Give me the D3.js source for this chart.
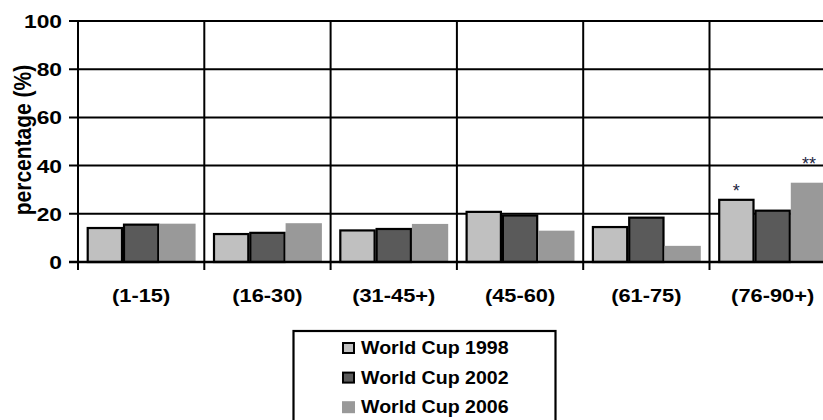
<!DOCTYPE html>
<html><head><meta charset="utf-8">
<script src="https://cdn.jsdelivr.net/npm/d3@7"></script>
<style>
html,body{margin:0;padding:0;background:#fff;}
svg{display:block;}
text{font-family:"Liberation Sans",Arial,Helvetica,sans-serif;}
</style></head>
<body>
<svg id="chart" width="823" height="420"></svg>
<script>
const categories = ["(1-15)","(16-30)","(31-45+)","(45-60)","(61-75)","(76-90+)"];
const seriesNames = ["World Cup 1998","World Cup 2002","World Cup 2006"];
const wc1998 = [14.1, 11.6, 13.1, 20.8, 14.5, 25.8];
const wc2002 = [15.5, 12.1, 13.7, 19.3, 18.4, 21.3];
const wc2006 = [15.9, 16.1, 15.8, 13.0, 6.7, 32.9];
const yTicks = [0, 20, 40, 60, 80, 100];
const annotations = [{cat:"(76-90+)", series:0, text:"*"}, {cat:"(76-90+)", series:2, text:"**"}];

const seriesValues = [wc1998, wc2002, wc2006];
const fills = ["#c0c0c0", "#5a5a5a", "#999999"];
const strokes = ["#000", "#000", "none"];
const starLift = [3, 13];
const SX = 1.18;

const svg = d3.select("#chart");
const mLeft = 78, mTop = 21, mBottom = 262, step = 126.3;
const x = d3.scaleBand().domain(categories).range([mLeft, mLeft + step*categories.length]).padding(0);
const y = d3.scaleLinear().domain([0, 100]).range([mBottom, mTop]);
const x1 = d3.scaleBand().domain(d3.range(3)).range([0, x.bandwidth()]).paddingInner(0).paddingOuter(0.24);

// horizontal gridlines
svg.append("g").selectAll("line").data(yTicks.filter(d => d > 0)).join("line")
  .attr("x1", mLeft - 9).attr("x2", 900)
  .attr("y1", d => y(d)).attr("y2", d => y(d))
  .attr("stroke", "#000").attr("stroke-width", 2);
svg.append("line").attr("x1", mLeft - 9).attr("x2", mLeft).attr("y1", y(0)).attr("y2", y(0))
  .attr("stroke", "#000").attr("stroke-width", 2);

// vertical separators (including y axis)
const seps = categories.map(c => x(c)).concat([x(categories[categories.length-1]) + x.bandwidth()]);
svg.append("g").selectAll("line").data(seps).join("line")
  .attr("x1", d => d).attr("x2", d => d)
  .attr("y1", y(100)).attr("y2", y(0) + 8)
  .attr("stroke", "#000").attr("stroke-width", 2);

// bars
const gBars = svg.append("g");
seriesValues.forEach((vals, si) => {
  gBars.selectAll(".s" + si).data(vals).join("rect")
    .attr("class", "s" + si)
    .attr("x", (d, i) => x(categories[i]) + x1(si) + (strokes[si] === "none" ? 0 : 1))
    .attr("width", x1.bandwidth() - (strokes[si] === "none" ? 0 : 2))
    .attr("y", d => y(d))
    .attr("height", d => y(0) - y(d))
    .attr("fill", fills[si])
    .attr("stroke", strokes[si])
    .attr("stroke-width", 2.2);
});

// x axis line at 0
svg.append("line").attr("x1", mLeft - 9).attr("x2", 900).attr("y1", y(0)).attr("y2", y(0))
  .attr("stroke", "#000").attr("stroke-width", 2.4);

// y tick labels
svg.append("g").selectAll("text").data(yTicks).join("text")
  .attr("transform", d => `translate(62,${y(d) + 7}) scale(1.2,1)`)
  .attr("text-anchor", "end")
  .attr("font-size", 19).attr("font-weight", "bold").attr("fill", "#000")
  .text(d => d);

// x category labels
svg.append("g").selectAll("text").data(categories).join("text")
  .attr("transform", d => `translate(${x(d) + x.bandwidth()/2},302) scale(${SX},1)`)
  .attr("text-anchor", "middle")
  .attr("font-size", 18.5).attr("font-weight", "bold").attr("fill", "#000")
  .text(d => d);

// y axis title
svg.append("text")
  .attr("transform", `translate(22.5,140) scale(1.1,1) rotate(-90)`)
  .attr("text-anchor", "middle").attr("dy", "0.35em")
  .attr("font-size", 21).attr("font-weight", "bold").attr("fill", "#000")
  .text("percentage (%)");

// significance stars
svg.append("g").selectAll("text").data(annotations).join("text")
  .attr("x", d => x(d.cat) + x1(d.series) + x1.bandwidth()/2)
  .attr("y", (d, i) => y(seriesValues[d.series][categories.indexOf(d.cat)]) - starLift[i])
  .attr("text-anchor", "middle")
  .attr("font-size", 18).attr("fill", "#1b2440")
  .text(d => d.text);

// legend
const lg = svg.append("g");
lg.append("rect").attr("x", 293.5).attr("y", 331).attr("width", 262).attr("height", 120)
  .attr("fill", "#fff").attr("stroke", "#000").attr("stroke-width", 2.2);
seriesNames.forEach((name, i) => {
  const yy = 354 + i * 29.6;
  lg.append("rect").attr("x", strokes[i] === "none" ? 342 : 343).attr("y", yy - (strokes[i] === "none" ? 12 : 11))
    .attr("width", strokes[i] === "none" ? 13 : 11).attr("height", strokes[i] === "none" ? 12 : 10)
    .attr("fill", fills[i]).attr("stroke", strokes[i]).attr("stroke-width", 2);
  lg.append("text").attr("transform", `translate(361,${yy}) scale(1.12,1)`)
    .attr("font-size", 17.5).attr("font-weight", "bold").attr("fill", "#000")
    .text(name);
});
</script>
</body></html>
